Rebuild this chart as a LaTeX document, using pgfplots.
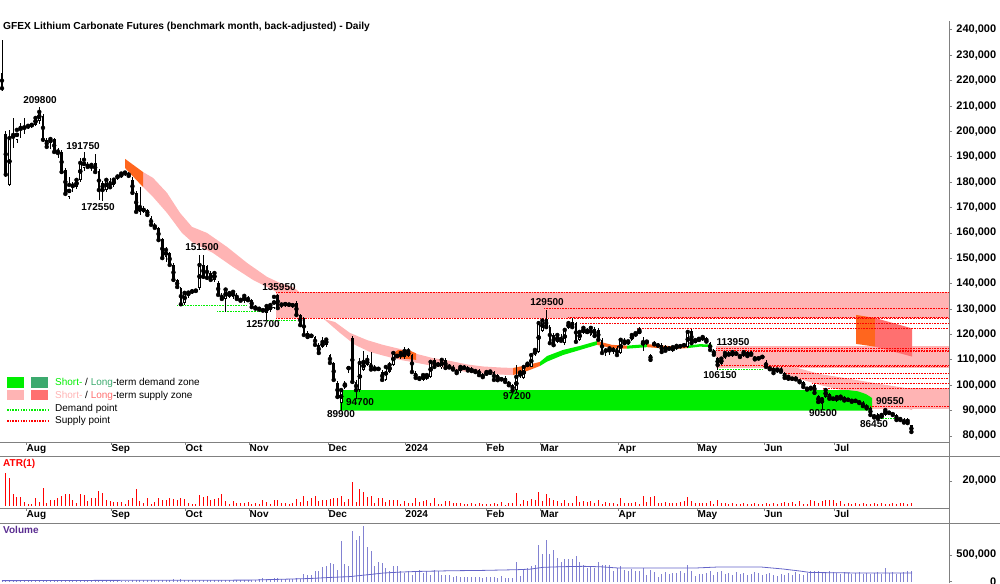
\documentclass[border=0pt]{standalone}
\usepackage{fontspec}
\setmainfont{Liberation Sans}
\usepackage{pgfplots}
\usepackage{pgfplotstable}
\pgfplotsset{compat=1.18}
\definecolor{stsup}{RGB}{255,180,180}
\definecolor{ltsup}{RGB}{255,112,112}
\definecolor{orng}{RGB}{255,102,30}
\definecolor{stdem}{RGB}{0,238,0}
\definecolor{ltdem}{RGB}{60,170,110}
\definecolor{volc}{RGB}{130,130,210}
\definecolor{volma}{RGB}{100,100,200}
\definecolor{gridg}{RGB}{128,128,128}
\definecolor{volt}{RGB}{90,45,145}

\pgfplotstableread{
i o h l c a v
0 223 236 216 217 0 25
1 199 200 182 183 26.4 30
2 179 200.6 178.5 197.4 22 30
3 197.4 205.3 193.5 198.6 9.2 28
4 196.7 201.4 195.6 200.6 7.2 25
5 200.6 203.4 197.4 201.4 7.2 22
6 201.2 205.3 199 201.6 3 20
7 201.6 203 201 202.2 1.5 22
8 202.2 203.4 201.4 202.6 1.5 25
9 202.6 206 202 205.3 6.2 20
10 204 209.8 203 207.7 3 30
11 206.1 207 196 196.7 14.4 35
12 196.7 197.5 193.3 193.9 2.3 25
13 195.5 197.5 193 197 4.6 22
14 197 197.5 191.5 191.9 5.1 25
15 192.7 193.5 189.5 191.5 6.7 28
16 191.9 192.5 183.5 184 8.2 30
17 184.8 185.5 174.5 175.4 9.7 35
18 174.2 182 173.5 178.9 9.7 30
19 178.3 180 176 178.7 5.1 25
20 178.1 181.5 177.5 180.9 2.3 22
21 180.9 189.5 180 187.6 9.7 25
22 185.6 191.75 184.5 188.8 8.7 35
23 187 188 185.5 186 3.6 30
24 185.5 187.5 184.5 186.8 6.4 25
25 187.6 191.1 183.5 184 6.2 22
26 184.4 185 173 176.9 11.8 30
27 179.7 180.5 172.55 176.9 10.3 32
28 177 181.5 176 180.9 5.1 28
29 180.5 181.5 177.5 178 3.6 25
30 179 181.5 178 181 3 22
31 182.5 183 181 182 3 20
32 182 184 181.5 183.4 3 22
33 183.2 184.5 182.5 183.8 1.5 20
34 183.5 184 181.5 182.5 5.1 22
35 181 182 175.5 175.8 6.2 28
36 175.8 176.5 168 168.3 13.3 40
37 168.3 178.1 167 170.2 3.6 30
38 169.2 170.5 168 169 2.3 28
39 169 169.5 166.5 167.1 6.2 25
40 166 166.5 162.8 163.2 1.5 25
41 163.2 163.8 161.5 162 3 30
42 162 162.5 156.5 157.2 6.2 28
43 157.5 158 150 150.1 4.6 30
44 150.5 154.5 148.5 153.3 4.6 35
45 152.1 152.5 147 147.4 6.2 40
46 147.4 148 141 141.5 5.6 45
47 141.5 142 138.3 138.7 4.6 38
48 138.3 138.7 131.6 131.9 6.2 42
49 132.4 137 131.6 136.4 5.6 35
50 135.5 137 134.5 136.5 2.3 30
51 136.8 137.8 136 137 1.5 32
52 137 138 136.3 137.3 1.5 30
53 138.3 151.5 137.5 147.4 8.7 35
54 147.4 151.5 142 142.7 7.2 30
55 147 147.5 141.5 142.3 8.2 28
56 144.2 145 141 141.5 5.1 32
57 141.5 145 140.8 144.2 5.6 30
58 140.3 141 135 135.6 6.2 35
59 135.6 136.3 133.5 134 9.2 38
60 134 138.5 128.9 137.7 3.6 40
61 135 137 134.5 136.3 1.5 35
62 134.8 137.3 134 136.8 3.6 30
63 135.6 136.2 133.5 134 2.3 32
64 134 134.5 132.8 133.3 2.3 35
65 133 135.6 132.5 135.2 2.3 38
66 134.5 135 133 133.5 3 30
67 133.6 134 130.5 130.8 1.5 32
68 131 131.5 129.8 130.2 2.0 32
69 130.5 131 129.3 129.8 1.3 45
70 129.8 130.2 128.8 129.4 5.1 77
71 128.5 131.6 125.7 131.2 3.1 45
72 129.5 132 128.8 131.6 1.3 58
73 130.4 135 130 134.8 4.6 77
74 135.6 135.95 130 130.4 5.1 64
75 131.6 132.5 130.5 131.8 2.6 45
76 131.8 132.6 131 132 2.6 45
77 131.6 132.4 130.8 131.8 1.3 45
78 131.6 132.3 130.5 131.5 2.0 58
79 132.4 133 127.2 127.7 5.6 77
80 127.7 128.2 123.2 123.7 3.1 58
81 126.5 127 119.3 119.8 7.7 141
82 120.6 121.2 118.5 119 3.8 128
83 119.4 120.2 118.5 119.5 6.4 122
84 119 119.5 115.5 115.9 7.7 205
85 115.9 116.5 112.2 112.7 3.8 192
86 115 119 114.5 117.1 4.6 269
87 116 118.5 115 118 4.6 288
88 111.9 112.5 108.3 108.8 5.6 353
89 108.8 109.3 101.8 102.1 6.4 340
90 100.9 101.5 95 95.4 6.4 212
91 93 98.5 89.9 98.1 7.7 769
92 99.5 101.5 98.5 100.3 3.1 340
93 106.6 107.2 105 106.8 5.6 288
94 118.6 119.4 100.8 101.3 19 942
95 101.3 102 94.7 98.1 3.1 788
96 98.1 110.7 97.5 108.8 13.3 865
97 106 113.5 105.5 109.2 11.5 1045
98 108 112 107.5 110 6.9 641
99 108.8 113.1 105.8 106.2 7.7 577
100 107 108 105.8 106.3 2.0 301
101 106.3 107 105.5 106.5 6.4 365
102 105.2 106 101.8 102.1 6.4 353
103 102.1 108 101.5 107.2 3.1 256
104 105.2 109 104.8 108 5.1 192
105 108 113 107.5 112.7 4.6 301
106 111.3 112.5 110.8 111.6 5.1 301
107 111 113.2 110.5 112.7 1.3 192
108 111 115.1 110.5 113.5 3.8 160
109 111.5 114.5 111 113.5 2.6 192
110 111.9 112.5 104.8 105.2 2.0 128
111 104.8 105.5 102.5 102.9 6.4 192
112 103 103.8 102 102.5 3.1 212
113 102.1 104.5 101.5 104 3.8 160
114 102.5 104.5 102 104 4.6 192
115 103.3 109.5 103 109.2 2.0 128
116 110 110.8 106.8 107.2 6.4 212
117 108 109 107.2 108.2 1.3 192
118 107 110.5 106.5 110 1.3 128
119 110 110.8 106.5 106.8 3.8 128
120 107.8 108.2 106.5 107 3.8 128
121 107 107.8 105.8 106.2 2.0 96
122 106 106.5 104.5 104.8 2.0 109
123 105.5 107.5 105 107.2 2.0 96
124 107.2 107.8 106.5 106.8 1.3 96
125 107 107.5 105.5 105.8 1.3 96
126 106.5 107 105.3 105.6 2.0 83
127 106 106.5 104.8 105.2 1.3 96
128 106 106.5 103.8 104 2.0 96
129 104.2 104.8 102.8 103.2 1.3 64
130 104 105.8 103.5 105.2 1.3 83
131 104.5 105.8 104 105.4 1.3 83
132 105.2 105.8 101.8 102.1 2.0 83
133 104 104.5 101.5 102 1.3 64
134 102.5 103 101.8 102.3 3.1 109
135 102.9 103.5 101 101.3 0.8 64
136 101.3 101.8 99.8 100 2.0 77
137 100.1 100.5 97.5 98 2.0 64
138 98.1 108 97.2 103.3 10.3 372
139 103.5 106 103 105 1.3 109
140 102.9 107.5 102.5 107.2 4.6 237
141 107.5 109 107 108.5 3.8 256
142 107.2 112.5 107 111.9 5.6 288
143 111.9 114.5 111.5 113.9 5.1 320
144 113.1 125 112.8 124.5 11.5 686
145 121.5 126 121 125.5 3.8 513
146 126.1 129.5 122.5 122.9 9.7 788
147 123 123.8 116 116.6 6.4 513
148 119.8 120.5 115.3 115.8 5.1 590
149 117 120.5 116.5 119.8 3.8 436
150 119 120 117 117.5 2.0 372
151 116.6 122.5 116 121.8 5.1 417
152 122.6 125 122 124.5 2.0 429
153 125 126.5 122.5 122.9 2.6 417
154 124.5 125 116.8 117.1 8.2 481
155 117.9 121.5 117.5 121 3.1 365
156 120.6 123 120 122.6 3.8 320
157 120.5 122.5 120 121.5 3.1 256
158 119.8 123 119.4 122.6 3.8 276
159 122.2 123 119 119.4 2.0 256
160 121.8 122.5 117.5 117.9 5.1 365
161 117.9 118.5 112.3 112.7 1.3 320
162 113.5 114.5 111.5 113.7 3.1 320
163 113 115 112 114.5 2.0 320
164 113.8 115 112.5 114 2.0 205
165 114.7 115.5 111.5 111.9 1.3 256
166 112.7 118.5 112.3 117.9 6.4 301
167 117.9 118.5 116.2 116.6 2.0 212
168 116.5 118 116 117.3 2.6 205
169 117.9 120.5 117.5 119.8 2.6 237
170 119.5 121 119 120.5 3.1 192
171 120.3 122.8 120 121.7 1.3 205
172 116 119 113.5 117 7.7 256
173 116.6 117.5 116 117.2 3.1 128
174 111.9 112.5 109.3 110 7.2 224
175 116.6 117.3 115.8 116.1 8.2 173
176 115.5 116.5 115 115.7 2.6 96
177 115.9 116.5 112.8 113.1 2.0 147
178 115.5 116 113.2 113.6 3.1 173
179 114.3 115.2 113.5 114.5 2.0 147
180 113.5 115.5 113 115 2.0 160
181 114.5 116 114 115.5 2.0 160
182 115.2 116.2 114.8 115.4 3.1 192
183 115.6 116.5 115 115.8 3.8 160
184 115.1 121.5 114.8 121 7.2 320
185 121.4 122 116.3 116.6 3.8 192
186 117 118 116.5 117.8 2.0 109
187 117.5 118.8 117 118.3 2.0 150
188 118 119.5 117.5 119 2.0 150
189 118.5 119 116.8 117.2 2.6 160
190 116.6 117 113.5 113.9 3.8 192
191 113.9 114.2 111.8 112 1.3 128
192 110.7 111 106.15 108 5.1 173
193 108.5 111 108 110.5 2.0 192
194 110.7 113 110.3 112.7 2.0 147
195 112 113.3 111.5 112.2 1.3 160
196 111.5 113.95 111 113 2.0 128
197 112.3 113.5 111.8 112.5 1.3 173
198 110.8 112 110.5 111.5 1.3 147
199 111.5 113.2 111 113 2.0 160
200 113 113.5 111.2 111.5 1.3 128
201 113 113.5 111.5 112 1.3 147
202 111 111.5 109.8 110.2 2.0 173
203 110.5 111.2 110 110.6 1.3 160
204 111 112 110.5 111.2 1.3 128
205 109.2 109.8 106.8 107.2 2.6 147
206 107 107.5 106 106.3 1.3 160
207 106.8 107.3 104.5 104.8 2.0 128
208 105.5 106.5 105 106.2 1.3 109
209 106.5 107 105 105.3 2.6 147
210 104.8 105.3 102.6 102.9 3.1 128
211 102 103.8 101.5 103.3 2.0 160
212 102.5 103.2 101.8 102.6 3.1 128
213 103 103.5 102 102.3 1.3 173
214 102 102.5 100.8 101.2 3.8 141
215 101.3 101.6 99 99.3 1.3 128
216 99 99.5 98 98.3 1.3 160
217 98.4 99.5 98 99 4.6 192
218 100.1 100.5 96.8 97 3.8 205
219 95.8 96.2 93 93.4 2.0 192
220 92.8 95.5 90.5 94.5 3.8 173
221 95.4 99 95 98.1 4.6 160
222 96.5 97 94.3 94.7 5.1 192
223 94.6 95.3 93.8 94.7 4.6 173
224 94 95.8 93.5 95.3 2.6 160
225 94.3 96 94 95.5 3.8 141
226 95.3 95.8 93.6 94 1.3 173
227 94.2 94.8 93.5 94.3 2.0 160
228 94.3 94.7 93.2 93.5 1.3 141
229 94 94.5 93 93.8 2.0 160
230 93.6 94 92.8 93 1.3 173
231 93.2 93.6 91.5 91.8 2.0 147
232 92 92.5 90.6 90.9 1.3 160
233 91 91.5 88 88.3 1.3 141
234 88.3 88.7 87 87.3 2.0 160
235 88.5 89 86.45 86.8 1.3 173
236 87.2 88.6 86.8 88.3 2.6 141
237 88.3 90.55 88 90.2 1.3 256
238 89 89.8 88.5 89.2 1.3 160
239 89 89.5 88 88.3 2.0 173
240 88.3 88.6 86 86.3 1.3 141
241 87.1 87.6 86 86.3 2.0 160
242 86.5 87 85 85.3 2.6 173
243 86.8 87.2 84.8 85.1 1.3 192
244 84.3 84.5 81.3 81.6 2.6 205
}\candles

\pgfplotsset{
  panel/.style={anchor=south west, width=949pt, scale only axis,
    xmin=0, xmax=949,
    axis x line=bottom, axis y line=right,
    axis line style={-, draw=gridg, line width=0.8pt},
    tick align=outside, major tick length=3pt,
    tick style={draw=gridg, line width=0.8pt},
    xtick={26,111,185,249,328,405,486,540,618,697,764,834},
    xticklabels={Aug,Sep,Oct,Nov,Dec,2024,Feb,Mar,Apr,May,Jun,Jul},
    xticklabel style={anchor=north west, inner sep=0pt, xshift=0.5pt, yshift=1pt, font=\fontsize{10}{12}\selectfont\bfseries},
    yticklabel style={anchor=west, text width=44pt, align=right, inner sep=0pt, font=\fontsize{11}{13}\selectfont\bfseries},
  },
}

\begin{document}
\begin{tikzpicture}
\useasboundingbox (0pt,0pt) rectangle (1000pt,583pt);

% ---------------- price panel ----------------
\begin{axis}[panel, at={(0pt,141pt)}, height=421pt,
  ymin=77.64, ymax=243.5,
  ytick={80,90,...,240},
  yticklabels={{80,000},{90,000},{100,000},{110,000},{120,000},{130,000},{140,000},{150,000},{160,000},{170,000},{180,000},{190,000},{200,000},{210,000},{220,000},{230,000},{240,000}},
]
\addplot[fill=stsup, draw=none] coordinates {(276,136.7) (949,136.7) (949,126.4) (276,126.4)};
\addplot[fill=stsup, draw=none] coordinates {(716,115.3) (949,115.3) (949,106.9) (716,106.9)};
\addplot[fill=stsup, draw=none] coordinates {(855,98.8) (949,98.8) (949,90.55) (855,90.55)};
\addplot[fill=stsup, draw=none] coordinates {
 (143,184.0) (153,181.7) (167,175.8) (180,167.9) (192,162.4) (207,160.0) (227,154.5) (247,148.2) (267,142.7) (280,140.3) (293,138.7) (310,133.5)
 (320,126.5) (335,124.9) (350,120.6) (367,117.8) (383,115.9) (400,114.3) (417,112.3) (433,110.7) (450,109.6) (467,108.2) (483,107.4) (500,107.0) (513,106.8)
 (513,104.0) (500,104.2) (483,104.6) (467,105.2) (450,106.4) (433,107.6) (417,108.8) (400,110.0) (385,111.5) (370,113.1) (355,115.9) (340,120.6)
 (325,125.7) (310,129.7) (290,133.6) (273,137.5) (253,141.5) (233,146.6) (213,152.1) (193,156.1) (182,160.0) (167,167.9) (153,174.2) (143,178.1)};
\addplot[fill=orng, draw=none] coordinates {(125,189.2) (143,184.0) (143,178.1) (125,185.6)};
\addplot[fill=orng, draw=none] coordinates {(392,112.2) (398,113.9) (410,113.6) (416,112.6) (416,110.0) (405,110.4) (392,111.0)};
\addplot[fill=orng, draw=none] coordinates {(513,106.8) (527,107.9) (540,109.2) (540,107.6) (527,105.6) (513,104.0)};
\addplot[fill=stdem, draw=none] coordinates {(540,109.2) (547,111.5) (563,113.9) (580,115.5) (597,117.4) (597,115.9) (580,113.9) (563,111.9) (547,109.3) (540,107.6)};
\addplot[fill=orng, draw=none] coordinates {(597,117.4) (612,115.9) (627,115.6) (627,114.4) (612,114.6) (597,115.9)};
\addplot[fill=stdem, draw=none] coordinates {(627,115.6) (647,116.2) (647,115.0) (627,114.4)};
\addplot[fill=orng, draw=none] coordinates {(647,116.2) (670,115.4) (687,115.6) (687,114.6) (670,114.3) (647,115.0)};
\addplot[fill=stdem, draw=none] coordinates {(687,115.6) (700,116.2) (712,116.0) (712,115.0) (700,115.2) (687,114.6)};
\addplot[fill=stsup, draw=none] coordinates {(765,113.1) (790,107.6) (820,104.4) (850,102.5) (880,100.5) (912,98.5) (912,90.2) (880,94.2) (850,97.3) (820,100.1) (790,103.6) (770,108.0)};
\addplot[fill=orng, draw=none] coordinates {(856,127.7) (875,126.5) (875,115.2) (856,116.3)};
\addplot[fill=ltsup, draw=none] coordinates {(875,126.5) (912,122.4) (912,111.3) (875,115.2)};
\addplot[fill=stdem, draw=none] coordinates {(340,98.1) (848,98.1) (858,97.6) (866,96.5) (872,95.0) (872,90.0) (340,90.0)};
\foreach \pp/\xx in {136.7/276,130.2/544,126.8/568,126.4/276,124.3/580,122.5/637,114.7/716,113.9/716,113.2/745,108.0/716,107.3/763,104.7/783,102.7/800,100.8/812,98.8/823,91.5/870}{
  \edef\temp{\noexpand\addplot[red, line width=0.8pt, dash pattern=on 0.8pt off 0.8pt] coordinates {(\xx,\pp) (949,\pp)};}
  \temp
}
\foreach \pp/\xa/\xb in {131.6/177/247,128.9/217/265,125.7/265/297,106.3/717/763,86.8/880/897}{
  \edef\temp{\noexpand\addplot[stdem, line width=0.8pt, dash pattern=on 0.8pt off 0.8pt] coordinates {(\xa,\pp) (\xb,\pp)};}
  \temp
}
\addplot[only marks, mark=none, error bars/.cd, y dir=both, y explicit, error mark=none,
  error bar style={draw=black, line width=0.8pt}]
  table[x expr=\thisrow{i}*3.727+2, y=c, y error plus expr=\thisrow{h}-\thisrow{c}, y error minus expr=\thisrow{c}-\thisrow{l}] {\candles};
\addplot[only marks, mark=none, error bars/.cd, y dir=both, y explicit, error mark=none,
  error bar style={draw=black, line width=2.7pt}]
  table[x expr=\thisrow{i}*3.727+2, y expr=(\thisrow{o}+\thisrow{c})/2, y error expr={max(abs(\thisrow{o}-\thisrow{c})/2,0.25)}] {\candles};
\addplot[only marks, mark=none, restrict expr to domain={\thisrow{c}-\thisrow{o}}{0.8:1000},
  error bars/.cd, y dir=both, y explicit, error mark=none,
  error bar style={draw=white, line width=1.2pt}]
  table[x expr=\thisrow{i}*3.727+2, y expr=(\thisrow{o}+\thisrow{c})/2, y error expr={abs(\thisrow{c}-\thisrow{o})/2-0.35}] {\candles};
\begin{scope}[every node/.style={font=\fontsize{10}{12}\selectfont\bfseries, inner sep=0pt}]
\node at (axis cs:40,212.4) {209800};
\node at (axis cs:83,194.3) {191750};
\node at (axis cs:98,170.2) {172550};
\node at (axis cs:202,154.5) {151500};
\node at (axis cs:279,138.7) {135950};
\node at (axis cs:263,124.1) {125700};
\node at (axis cs:341,88.7) {89900};
\node at (axis cs:360,93.4) {94700};
\node at (axis cs:517,95.8) {97200};
\node at (axis cs:547,132.8) {129500};
\node at (axis cs:733,117.0) {113950};
\node at (axis cs:720,104.0) {106150};
\node at (axis cs:823,89.1) {90500};
\node at (axis cs:890,93.8) {90550};
\node at (axis cs:874,84.7) {86450};
\end{scope}
\end{axis}

% ---------------- ATR panel ----------------
\begin{axis}[panel, at={(0pt,75pt)}, height=52pt,
  ymin=-1.6, ymax=40, ytick={20}, yticklabels={20{,}000}]
\addplot[ycomb, red, line width=0.9pt, mark=none] table[x expr=\thisrow{i}*3.727+2, y=a] {\candles};
\end{axis}

% ---------------- Volume panel ----------------
\begin{axis}[panel, at={(0pt,0pt)}, height=60pt, axis x line=none,
  ymin=-24, ymax=1099, ytick={0,500}, yticklabels={0,{500,000}}]
\addplot[ycomb, volc, line width=0.9pt, mark=none] table[x expr=\thisrow{i}*3.727+2, y=v] {\candles};
\addplot[volma, line width=0.8pt, mark=none] coordinates {
 (2,20) (100,25) (200,28) (250,30) (280,45) (310,60) (330,80) (350,96) (370,135) (383,162) (400,180) (417,192) (450,205) (483,212) (517,225) (530,235) (543,269) (560,280) (583,288) (600,280) (617,258) (650,255) (697,258) (720,277) (760,277) (783,238) (800,200) (810,173) (850,165) (912,162)};
\end{axis}

\begin{scope}[x=1pt,y=1pt]
\draw[gridg, line width=0.8pt] (0,127) -- (1000,127);
\draw[gridg, line width=0.8pt] (0,60) -- (1000,60);
\draw[gridg, line width=0.8pt] (949,0) -- (949,562);

\node[anchor=west, inner sep=0pt, font=\fontsize{10.2}{12}\selectfont\bfseries] at (3,556) {GFEX Lithium Carbonate Futures (benchmark month, back-adjusted) - Daily};
\node[anchor=west, inner sep=0pt, font=\fontsize{10}{12}\selectfont\bfseries, text=red] at (3,119) {ATR(1)};
\node[anchor=west, inner sep=0pt, font=\fontsize{10}{12}\selectfont\bfseries, text=volt] at (3,53) {Volume};

\fill[stdem] (7,195) rectangle (24,206);
\fill[ltdem] (31,195) rectangle (48,206);
\fill[stsup] (7,183) rectangle (24,193);
\fill[ltsup] (31,183) rectangle (48,193);
\draw[stdem, line width=2pt, dash pattern=on 1.5pt off 1.2pt] (7,173) -- (48,173);
\draw[red, line width=2pt, dash pattern=on 1.5pt off 1.2pt] (7,161.5) -- (48,161.5);
\begin{scope}[every node/.style={anchor=west, inner sep=0pt, font=\fontsize{10}{12}\selectfont}]
\node at (55,200) {\textcolor{stdem}{Short-} / \textcolor{ltdem}{Long}-term demand zone};
\node at (55,187.5) {\textcolor{stsup}{Short-} / \textcolor{ltsup}{Long}-term supply zone};
\node at (55,174) {Demand point};
\node at (55,162) {Supply point};
\end{scope}
\end{scope}
\end{tikzpicture}
\end{document}
